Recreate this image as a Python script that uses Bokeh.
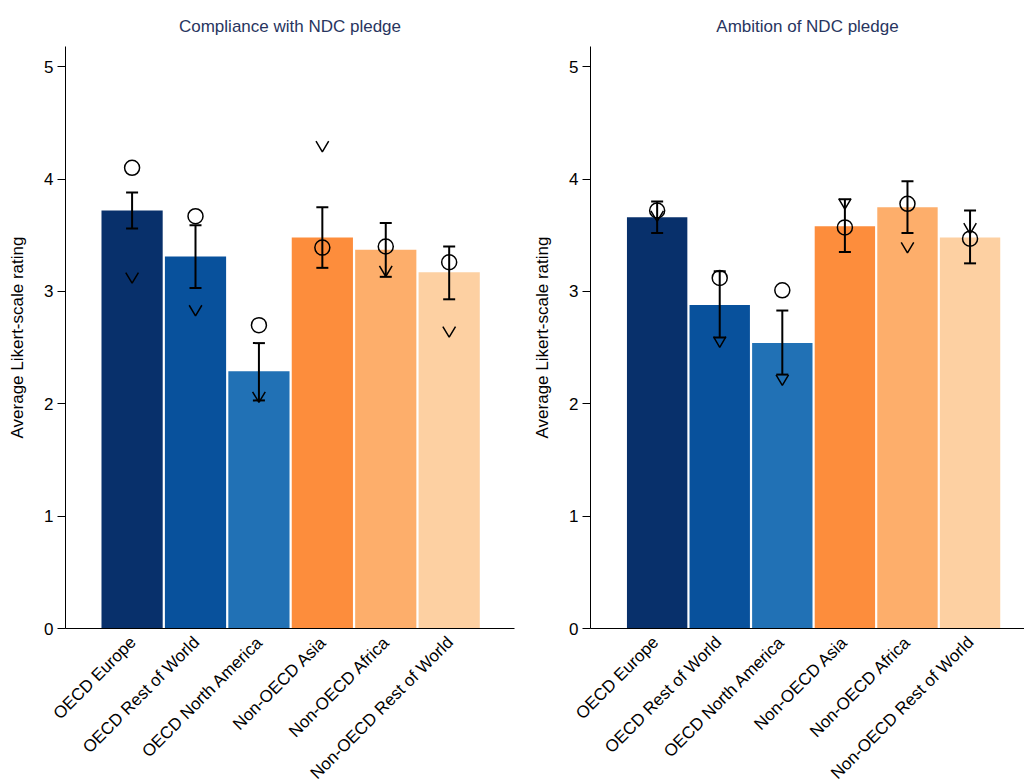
import math
from bokeh.plotting import figure
from bokeh.layouts import row, column
from bokeh.models import ColumnDataSource, Range1d, FixedTicker, Whisker, TeeHead
from bokeh.core.properties import value
from bokeh.embed import file_html
from bokeh.resources import INLINE

categories = ["OECD Europe", "OECD Rest of World", "OECD North America",
              "Non-OECD Asia", "Non-OECD Africa", "Non-OECD Rest of World"]
bar_colors = ["#08306b", "#08519c", "#2171b5", "#fd8d3c", "#fdae6b", "#fdd0a2"]
y_ticks = [0, 1, 2, 3, 4, 5]

compliance_mean = [3.72, 3.31, 2.29, 3.48, 3.37, 3.17]
compliance_lower = [3.56, 3.03, 2.03, 3.21, 3.13, 2.93]
compliance_upper = [3.88, 3.59, 2.54, 3.75, 3.61, 3.40]
compliance_circle = [4.10, 3.67, 2.70, 3.39, 3.40, 3.26]
compliance_vee = [3.12, 2.83, 2.06, 4.29, 3.18, 2.64]

ambition_mean = [3.66, 2.88, 2.54, 3.58, 3.75, 3.48]
ambition_lower = [3.52, 2.59, 2.26, 3.35, 3.52, 3.25]
ambition_upper = [3.80, 3.18, 2.83, 3.82, 3.98, 3.72]
ambition_circle = [3.72, 3.12, 3.01, 3.57, 3.78, 3.47]
ambition_vee = [3.67, 2.55, 2.21, 3.78, 3.39, 3.56]

FONT = "Liberation Sans"
TITLE_COLOR = "#283560"
MAIN_H = 645
BOTTOM_B = 17
OVERLAP = 12
LABEL_H = 781 - MAIN_H + OVERLAP
PAGE_W = 1024


def make_panel(title, mean, lower, upper, circle, vee, width, x_start, x_end,
               border_left, border_right):
    xs = list(range(len(categories)))
    p = figure(width=width, height=MAIN_H, output_backend="svg",
               toolbar_location=None, title=title,
               x_range=Range1d(x_start, x_end), y_range=Range1d(0, 5.18),
               min_border_left=border_left, min_border_right=border_right,
               min_border_top=46, min_border_bottom=BOTTOM_B)
    p.title.align = "center"
    p.title.text_font = FONT
    p.title.text_font_size = "17px"
    p.title.text_font_style = "normal"
    p.title.text_color = TITLE_COLOR
    p.title.standoff = 22
    p.outline_line_color = None
    p.xgrid.visible = False
    p.ygrid.visible = False

    src = ColumnDataSource(dict(x=xs, mean=mean, lower=lower, upper=upper,
                                circle=circle, color=bar_colors))
    p.vbar(x="x", top="mean", bottom=0, width=0.965, color="color",
           line_color=None, source=src)

    w = Whisker(source=src, base="x", lower="lower", upper="upper",
                line_color="black", line_width=2, level="annotation",
                upper_head=TeeHead(size=12, line_width=2, line_color="black"),
                lower_head=TeeHead(size=12, line_width=2, line_color="black"))
    p.add_layout(w)

    p.scatter(x="x", y="circle", source=src, marker="circle", size=15,
              fill_color=None, line_color="black", line_width=1.5)

    vx = [[i - 0.1, i, i + 0.1] for i in xs]
    vy = [[v + 0.047, v - 0.047, v + 0.047] for v in vee]
    p.multi_line(xs=vx, ys=vy, line_color="black", line_width=1.5)

    # y axis
    p.yaxis.ticker = FixedTicker(ticks=y_ticks)
    p.yaxis.minor_tick_line_color = None
    p.yaxis.major_tick_in = 0
    p.yaxis.major_tick_out = 8
    p.yaxis.major_tick_line_color = "black"
    p.yaxis.major_label_standoff = 4
    p.yaxis.axis_label = "Average Likert-scale rating"
    p.yaxis.axis_label_standoff = 14
    p.yaxis.axis_label_text_font = FONT
    p.yaxis.axis_label_text_font_size = "17px"
    p.yaxis.axis_label_text_font_style = "normal"
    p.yaxis.axis_label_text_color = "black"
    p.yaxis.major_label_text_font = FONT
    p.yaxis.major_label_text_font_size = "17px"
    p.yaxis.major_label_text_color = "black"
    p.yaxis.axis_line_color = "black"

    # x axis: only its line; category names are drawn in the strip below
    p.xaxis.ticker = FixedTicker(ticks=[])
    p.xaxis.major_tick_in = 0
    p.xaxis.major_tick_out = 0
    p.xaxis.major_label_standoff = 0
    p.xaxis.minor_tick_line_color = None
    p.xaxis.axis_line_color = "black"

    # page x-position of each category centre (for the label strip)
    ppu = (width - border_left - border_right) / (x_end - x_start)
    centres = [border_left + (i - x_start) * ppu for i in xs]
    return p, centres


p1, c1 = make_panel("Compliance with NDC pledge", compliance_mean,
                    compliance_lower, compliance_upper, compliance_circle,
                    compliance_vee, width=530, x_start=-1.05, x_end=6.03,
                    border_left=65, border_right=16)
p2, c2 = make_panel("Ambition of NDC pledge", ambition_mean, ambition_lower,
                    ambition_upper, ambition_circle, ambition_vee,
                    width=494, x_start=-1.065, x_end=5.87,
                    border_left=57, border_right=0)
c2 = [530 + c for c in c2]

# transparent strip, overlapping the bottom of the panels, for the rotated names
strip = figure(width=PAGE_W, height=LABEL_H, output_backend="svg",
               toolbar_location=None, x_range=Range1d(0, PAGE_W),
               y_range=Range1d(0, LABEL_H), x_axis_location=None,
               y_axis_location=None, min_border=0,
               margin=(-OVERLAP, 0, 0, 0))
strip.outline_line_color = None
strip.background_fill_alpha = 0
strip.border_fill_alpha = 0
strip.xgrid.visible = False
strip.ygrid.visible = False
lsrc = ColumnDataSource(dict(x=c1 + c2, cat=categories + categories,
                             y=[LABEL_H] * (2 * len(categories))))
strip.text(x="x", y="y", text="cat", source=lsrc, angle=math.pi / 4,
           text_align="right", text_baseline="middle",
           x_offset=1, y_offset=OVERLAP - 6,
           text_font=value(FONT), text_font_size="17px", text_color="black")

layout = column(row(p1, p2), strip)
open("out.html", "w").write(file_html(layout, INLINE))
